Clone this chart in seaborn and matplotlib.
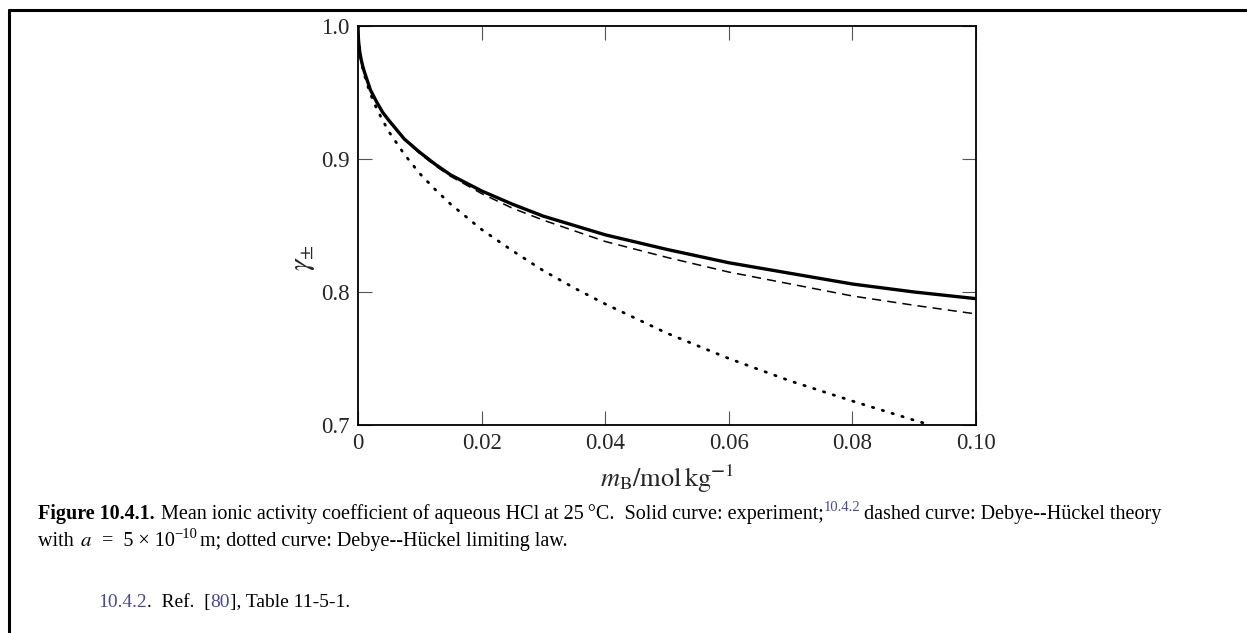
import numpy as np
import pandas as pd
import matplotlib
matplotlib.use("Agg")
import matplotlib.pyplot as plt
import seaborn as sns

# molality values (mol/kg) and activity coefficients
m_exp = [0, 0.00005, 0.0001, 0.0002, 0.0003, 0.0005, 0.00075, 0.001, 0.0015, 0.002,
         0.003, 0.004, 0.005, 0.0075, 0.01, 0.0125, 0.015, 0.02, 0.025, 0.03,
         0.035, 0.04, 0.05, 0.06, 0.07, 0.08, 0.09, 0.10]
g_exp = [1.0, 0.992, 0.988, 0.984, 0.980, 0.975, 0.970, 0.966, 0.959, 0.952,
         0.943, 0.935, 0.929, 0.915, 0.905, 0.896, 0.888, 0.876, 0.866, 0.857,
         0.850, 0.843, 0.832, 0.822, 0.814, 0.806, 0.800, 0.795]

m_dh = [0, 0.00005, 0.0001, 0.0002, 0.0003, 0.0005, 0.00075, 0.001, 0.0015, 0.002,
        0.003, 0.004, 0.005, 0.0075, 0.01, 0.0125, 0.015, 0.02, 0.025, 0.03,
        0.035, 0.04, 0.05, 0.06, 0.07, 0.08, 0.09, 0.10]
g_dh = [1.0, 0.992, 0.988, 0.984, 0.980, 0.975, 0.970, 0.965, 0.958, 0.952,
        0.943, 0.935, 0.9285, 0.915, 0.904, 0.895, 0.887, 0.874, 0.863, 0.854,
        0.846, 0.838, 0.826, 0.815, 0.806, 0.797, 0.790, 0.7835]

m_ll = [0, 0.00005, 0.0001, 0.0002, 0.0003, 0.0005, 0.00075, 0.001, 0.0015, 0.002,
        0.003, 0.004, 0.005, 0.0075, 0.01, 0.0125, 0.015, 0.02, 0.025, 0.03,
        0.035, 0.04, 0.05, 0.06, 0.07, 0.08, 0.09, 0.0926]
g_ll = [1.0, 0.992, 0.988, 0.9835, 0.980, 0.974, 0.968, 0.9636, 0.956, 0.949,
        0.938, 0.929, 0.9205, 0.9035, 0.889, 0.877, 0.866, 0.847, 0.831, 0.816,
        0.803, 0.791, 0.769, 0.750, 0.733, 0.718, 0.7036, 0.700]

x_ticks = [0, 0.02, 0.04, 0.06, 0.08, 0.10]
x_ticklabels = ["0", "0.02", "0.04", "0.06", "0.08", "0.10"]
y_ticks = [0.7, 0.8, 0.9, 1.0]
y_ticklabels = ["0.7", "0.8", "0.9", "1.0"]

sns.set_style("ticks")
plt.rcParams["font.family"] = ["Liberation Serif", "DejaVu Serif"]
plt.rcParams["mathtext.fontset"] = "stix"

fig = plt.figure(figsize=(12.47, 6.33), dpi=100)
ax = fig.add_axes([0.2871, 0.3286, 0.4956, 0.6303])

df_exp = pd.DataFrame({"m": m_exp, "g": g_exp})
df_dh = pd.DataFrame({"m": m_dh, "g": g_dh})
df_ll = pd.DataFrame({"m": m_ll, "g": g_ll})

sns.lineplot(data=df_exp, x="m", y="g", ax=ax, color="black", lw=2.4, sort=False)
sns.lineplot(data=df_dh, x="m", y="g", ax=ax, color="black", lw=1.1,
             sort=False, linestyle=(0, (6, 4)))
sns.lineplot(data=df_ll, x="m", y="g", ax=ax, color="black", lw=2.0,
             sort=False, linestyle=(0, (0.5, 3.2)))
ax.lines[-1].set_dash_capstyle("round")

ax.set_xlim(0, 0.10)
ax.set_ylim(0.7, 1.0)
ax.set_xticks(x_ticks)
ax.set_xticklabels(x_ticklabels)
ax.set_yticks(y_ticks)
ax.set_yticklabels(y_ticklabels)
ax.tick_params(direction="in", length=10, width=0.8, labelsize=16.5, pad=6,
               top=True, right=True, color="#555555")
for s in ax.spines.values():
    s.set_linewidth(1.3)
    s.set_color("black")

ax.set_xlabel(r"$m_{\mathrm{B}}/\mathrm{mol\,kg}^{\mathbf{-}1}$", fontsize=19, labelpad=6)
ax.set_ylabel(r"$\gamma_{\pm}$", fontsize=21)
ax.yaxis.set_label_coords(-0.066, 0.42)

# page frame
fig.add_artist(plt.Line2D([9 / 1247, 9 / 1247], [0, 1 - 10 / 633], color="black",
                          lw=2.2, transform=fig.transFigure))
fig.add_artist(plt.Line2D([9 / 1247, 1], [1 - 10 / 633, 1 - 10 / 633], color="black",
                          lw=2.2, transform=fig.transFigure))

link = "#4a4a90"
cap_size = 14.5


def chain(x, y, parts, size=cap_size):
    # write text pieces one after another on a single baseline
    fig.canvas.draw()
    r = fig.canvas.get_renderer()
    for txt, kw in parts:
        t = fig.text(x, y, txt, fontsize=kw.get("size", size),
                     weight=kw.get("weight", "normal"), color=kw.get("color", "black"),
                     va="baseline", transform=None)
        dy = kw.get("dy", 0)
        if dy:
            t.set_y(y + dy)
        bb = t.get_window_extent(r)
        x = bb.x1 + kw.get("gap", 0)


chain(38, 633 - 519, [
    ("Figure 10.4.1.", {"weight": "bold", "gap": 6}),
    ("Mean ionic activity coefficient of aqueous HCl at 25\u2009\u00b0C.  Solid curve: experiment;", {}),
    ("10.4.2", {"size": 10.5, "color": link, "dy": 8, "gap": 4}),
    ("dashed curve: Debye--H\u00fcckel theory", {}),
])
chain(38, 633 - 546, [
    ("with ", {"gap": 1}),
    (r"$a$", {"size": 15}),
    ("  =  5 \u00d7 10", {}),
    ("\u221210", {"size": 10.5, "dy": 8, "gap": 3}),
    ("m; dotted curve: Debye--H\u00fcckel limiting law.", {}),
])
chain(98, 633 - 607, [
    ("10.4.2", {"color": link}),
    (".  Ref.  [", {}),
    ("80", {"color": link}),
    ("], Table 11-5-1.", {}),
], size=14)

fig.savefig("out.png", dpi=100)
